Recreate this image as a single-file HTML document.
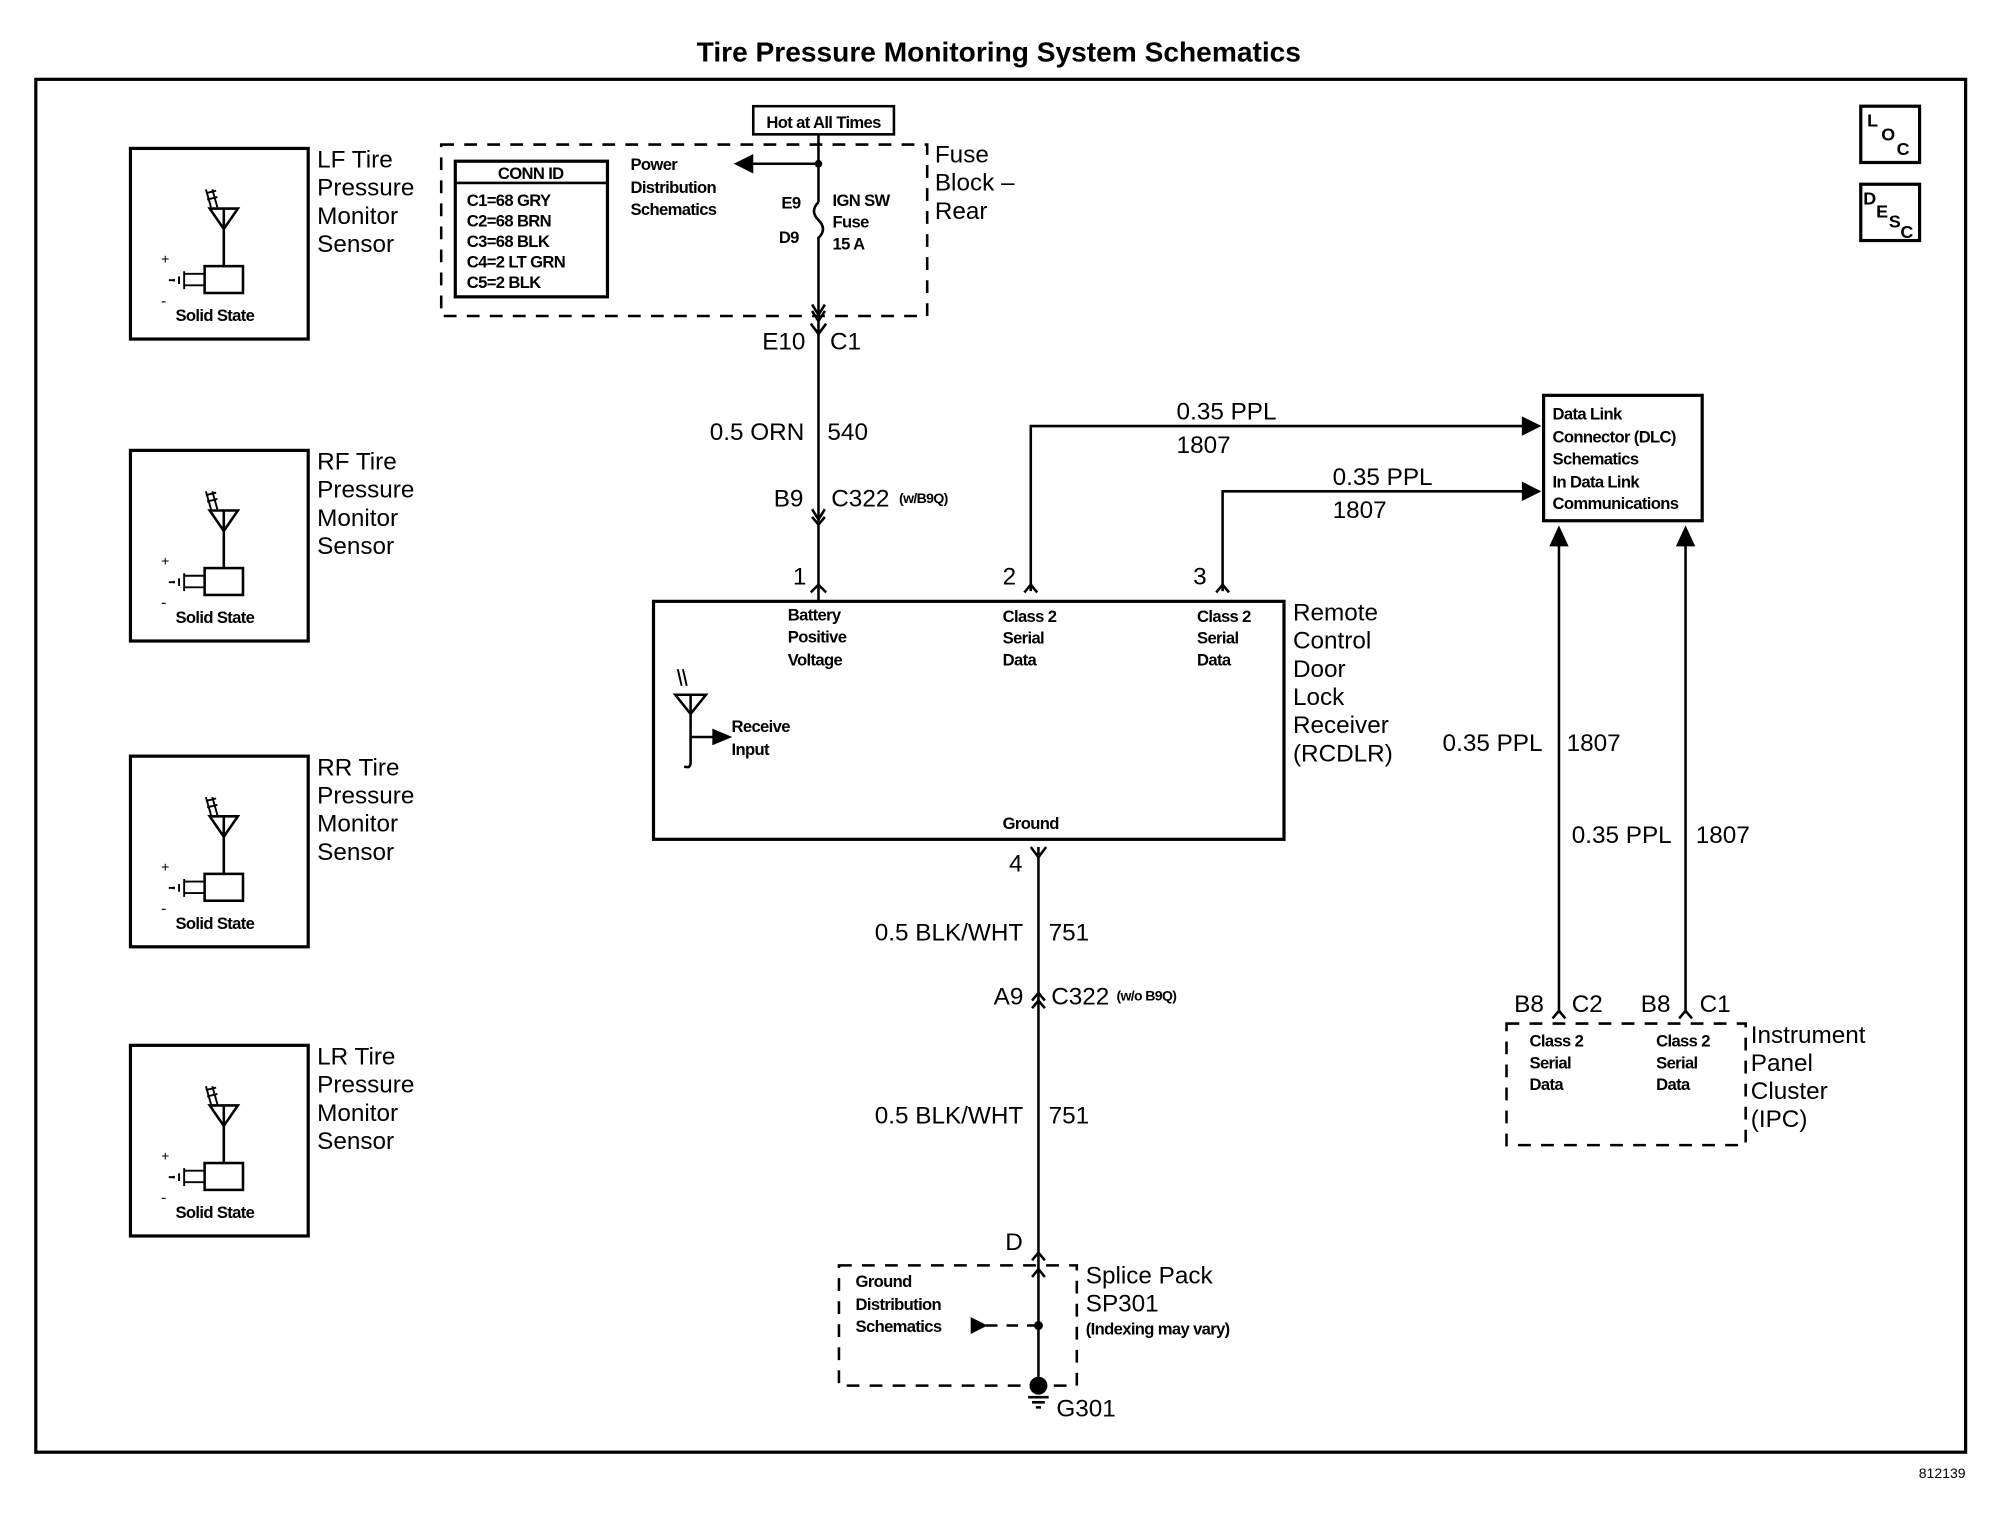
<!DOCTYPE html>
<html><head><meta charset="utf-8"><style>
html,body{margin:0;padding:0;background:#fff}
svg{display:block}
text{font-family:"Liberation Sans",Arial,sans-serif;fill:#000}
.b{font-size:19px}
.s{font-size:14px}
.t{font-size:13px;font-weight:bold;letter-spacing:-0.5px}
</style></head><body>
<svg width="2004" height="1520" viewBox="0 0 1567 1188" preserveAspectRatio="none" xmlns="http://www.w3.org/2000/svg">
<g fill="none" stroke="#000" stroke-width="2">
<text x="781" y="48" text-anchor="middle" style="font-size:22px;font-weight:bold" stroke="none">Tire Pressure Monitoring System Schematics</text>
<rect x="28" y="62" width="1509" height="1073" stroke-width="2.5"/>
<rect x="1455" y="83" width="46" height="44" stroke-width="2.5"/>
<rect x="1455" y="144" width="46" height="44" stroke-width="2.5"/>
</g>
<text x="1460" y="99" class="s" font-weight="bold">L</text><text x="1471" y="110" class="s" font-weight="bold">O</text><text x="1483" y="121" class="s" font-weight="bold">C</text>
<text x="1457" y="160" class="s" font-weight="bold">D</text><text x="1467" y="170" class="s" font-weight="bold">E</text><text x="1477" y="178" class="s" font-weight="bold">S</text><text x="1486" y="186" class="s" font-weight="bold">C</text>
<text x="1537" y="1155" text-anchor="end" style="font-size:11px">812139</text>

<defs>
<g id="sensor" fill="none" stroke="#000" stroke-width="2">
<rect x="102" y="0" width="139" height="149" stroke-width="2.5"/>
<path d="M165 46 l-4 -14 M170 46 l-4 -14 M162 40 l8 -2 M161 35 l8 -2" stroke-width="1.5"/>
<path d="M164 47 h22 l-11 16 z M175 47 v16 M175 63 v29"/>
<rect x="160" y="92" width="30" height="21"/>
<path d="M160 98 h-16 M160 107 h-16 M144 96 v14 M140 100 v6 M136 102 v2 M136 103 h-4" stroke-width="1.5"/>
<text x="126" y="90" stroke="none" style="font-size:11px">+</text>
<text x="126" y="123" stroke="none" style="font-size:12px">-</text>
<text x="168" y="135" stroke="none" text-anchor="middle" class="t" style="font-size:13px">Solid State</text>
</g>
</defs>
<use href="#sensor" y="116"/>
<use href="#sensor" y="352"/>
<use href="#sensor" y="591"/>
<use href="#sensor" y="817"/>
<g class="b">
<text x="248" y="131">LF Tire</text><text x="248" y="153">Pressure</text><text x="248" y="175">Monitor</text><text x="248" y="197">Sensor</text>
<text x="248" y="367">RF Tire</text><text x="248" y="389">Pressure</text><text x="248" y="411">Monitor</text><text x="248" y="433">Sensor</text>
<text x="248" y="606">RR Tire</text><text x="248" y="628">Pressure</text><text x="248" y="650">Monitor</text><text x="248" y="672">Sensor</text>
<text x="248" y="832">LR Tire</text><text x="248" y="854">Pressure</text><text x="248" y="876">Monitor</text><text x="248" y="898">Sensor</text>
</g>

<g fill="none" stroke="#000" stroke-width="2">
<rect x="589" y="83" width="110" height="22"/>
<rect x="345" y="113" width="380" height="134" stroke-dasharray="10,8"/>
<rect x="356" y="126" width="119" height="106" stroke-width="2.5"/>
<path d="M356 143 h119"/>
<path d="M640 105 V158 M640 185 V470"/>
<path d="M640 158 q-7 7 0 14 q7 7 0 14"/>
<path d="M640 128 H585"/>
<path d="M588 122 l-12 6 l12 6 z" fill="#000"/>
<circle cx="640" cy="128" r="2" fill="#000"/>
<path d="M635 238 l5 8 l5 -8 M635 243 l5 8 l5 -8"/>
<path d="M634 253 l6 8 l6 -8"/>
<path d="M635 398 l5 8 l5 -8 M635 404 l5 6 l5 -6"/>
<path d="M634 463 l6 -6 l6 6"/>
<rect x="511" y="470" width="493" height="186" stroke-width="2.5"/>
<path d="M528 543 h24 l-12 15 z M540 543 v15 M540 558 v38 M540 576 h20"/>
<path d="M533 536 l-3 -13 M537 536 l-3 -13" stroke-width="1.5"/>
<path d="M558 571 l12 5 l-12 5 z" fill="#000"/>
<path d="M540 596 q0 5 -5 3"/>
<path d="M806 462 V333 H1195"/>
<path d="M1191 327 l12 6 l-12 6 z" fill="#000"/>
<path d="M801 463 l5 -6 l5 6"/>
<path d="M956 462 V384 H1195"/>
<path d="M1191 378 l12 6 l-12 6 z" fill="#000"/>
<path d="M951 463 l5 -6 l5 6"/>
<rect x="1207" y="309" width="124" height="98" stroke-width="2.5"/>
<path d="M1219 792 V420 M1318 792 V420"/>
<path d="M1213 426 l6 -13 l6 13 z M1312 426 l6 -13 l6 13 z" fill="#000"/>
<path d="M1214 796 l5 -6 l5 6 M1313 796 l5 -6 l5 6"/>
<rect x="1178" y="800" width="187" height="95" stroke-dasharray="10,8"/>
<path d="M812 662 V1085"/>
<path d="M806 662 l6 8 l6 -8"/>
<path d="M807 782 l5 -6 l5 6 M807 788 l5 -6 l5 6"/>
<path d="M807 985 l5 -6 l5 6"/>
<rect x="656" y="989" width="186" height="94" stroke-dasharray="10,8"/>
<path d="M807 998 l5 -6 l5 6"/>
<path d="M812 1036 H770" stroke-dasharray="9,7"/>
<path d="M760 1031 l10 5 l-10 5 z" fill="#000"/>
<circle cx="812" cy="1036" r="2.5" fill="#000"/>
<circle cx="812" cy="1083" r="6" fill="#000"/>
<path d="M804 1092 h16 M807 1096 h10 M810 1100 h4"/>
</g>

<text x="644" y="100" text-anchor="middle" class="t">Hot at All Times</text>
<text x="415" y="140" text-anchor="middle" class="t">CONN ID</text>
<g class="t"><text x="365" y="161">C1=68 GRY</text><text x="365" y="177">C2=68 BRN</text><text x="365" y="193">C3=68 BLK</text><text x="365" y="209">C4=2 LT GRN</text><text x="365" y="225">C5=2 BLK</text>
<text x="493" y="133">Power</text><text x="493" y="151">Distribution</text><text x="493" y="168">Schematics</text>
<text x="611" y="163">E9</text><text x="609" y="190">D9</text>
<text x="651" y="161">IGN SW</text><text x="651" y="178">Fuse</text><text x="651" y="195">15 A</text>
<text x="616" y="485">Battery</text><text x="616" y="502">Positive</text><text x="616" y="520">Voltage</text>
<text x="784" y="486">Class 2</text><text x="784" y="503">Serial</text><text x="784" y="520">Data</text>
<text x="936" y="486">Class 2</text><text x="936" y="503">Serial</text><text x="936" y="520">Data</text>
<text x="572" y="572">Receive</text><text x="572" y="590">Input</text>
<text x="784" y="648">Ground</text>
<text x="1214" y="328">Data Link</text><text x="1214" y="346">Connector (DLC)</text><text x="1214" y="363">Schematics</text><text x="1214" y="381">In Data Link</text><text x="1214" y="398">Communications</text>
<text x="1196" y="818">Class 2</text><text x="1196" y="835">Serial</text><text x="1196" y="852">Data</text>
<text x="1295" y="818">Class 2</text><text x="1295" y="835">Serial</text><text x="1295" y="852">Data</text>
<text x="669" y="1006">Ground</text><text x="669" y="1024">Distribution</text><text x="669" y="1041">Schematics</text>
<text x="849" y="1043">(Indexing may vary)</text>
<text x="703" y="393" style="font-size:11px">(w/B9Q)</text>
<text x="873" y="782" style="font-size:11px">(w/o B9Q)</text>
</g>
<g class="b">
<text x="731" y="127">Fuse</text><text x="731" y="149">Block –</text><text x="731" y="171">Rear</text>
<text x="596" y="273">E10</text><text x="649" y="273">C1</text>
<text x="555" y="344">0.5 ORN</text><text x="647" y="344">540</text>
<text x="605" y="396">B9</text><text x="650" y="396">C322</text>
<text x="620" y="457">1</text><text x="784" y="457">2</text><text x="933" y="457">3</text>
<text x="920" y="328">0.35 PPL</text><text x="920" y="354">1807</text>
<text x="1042" y="379">0.35 PPL</text><text x="1042" y="405">1807</text>
<text x="1011" y="485">Remote</text><text x="1011" y="507">Control</text><text x="1011" y="529">Door</text><text x="1011" y="551">Lock</text><text x="1011" y="573">Receiver</text><text x="1011" y="595">(RCDLR)</text>
<text x="1128" y="587">0.35 PPL</text><text x="1225" y="587">1807</text>
<text x="1229" y="659">0.35 PPL</text><text x="1326" y="659">1807</text>
<text x="789" y="681">4</text>
<text x="684" y="735">0.5 BLK/WHT</text><text x="820" y="735">751</text>
<text x="777" y="785">A9</text><text x="822" y="785">C322</text>
<text x="684" y="878">0.5 BLK/WHT</text><text x="820" y="878">751</text>
<text x="786" y="977">D</text>
<text x="849" y="1003">Splice Pack</text><text x="849" y="1025">SP301</text>
<text x="826" y="1107">G301</text>
<text x="1184" y="791">B8</text><text x="1229" y="791">C2</text>
<text x="1283" y="791">B8</text><text x="1329" y="791">C1</text>
<text x="1369" y="815">Instrument</text><text x="1369" y="837">Panel</text><text x="1369" y="859">Cluster</text><text x="1369" y="881">(IPC)</text>
</g>
</svg>
</body></html>
